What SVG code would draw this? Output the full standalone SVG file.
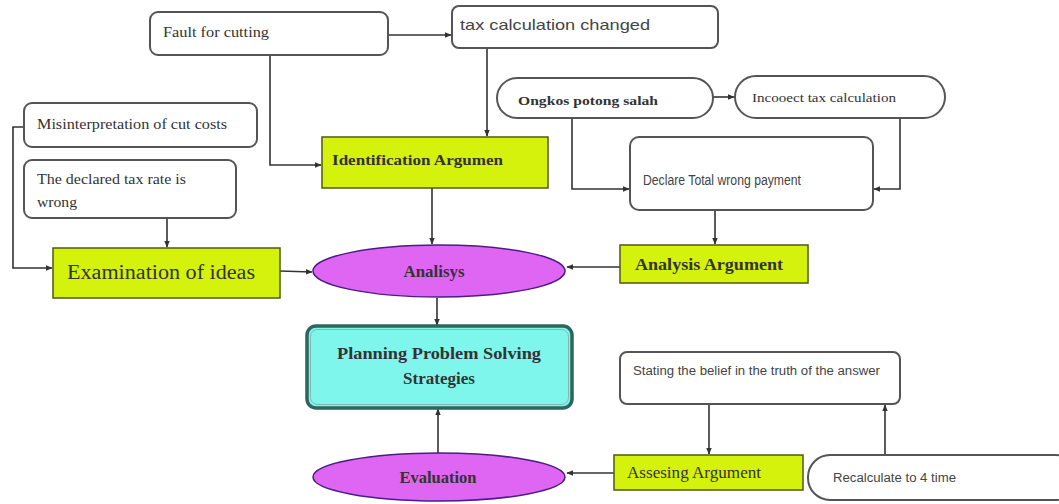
<svg xmlns="http://www.w3.org/2000/svg" width="1059" height="504" viewBox="0 0 1059 504">
<defs>
<marker id="ah" viewBox="0 0 10 10" refX="9" refY="5" markerWidth="7" markerHeight="7" markerUnits="userSpaceOnUse" orient="auto"><path d="M0,1 L10,5 L0,9 z" fill="#333"/></marker>
<style>
.box{fill:#fff;stroke:#555;stroke-width:2}
.grn{fill:#d5f20d;stroke:#4d5a12;stroke-width:1.5}
.pur{fill:#df66f2;stroke:#4b1c86;stroke-width:1.5}
.cyn{fill:#7ff6ec;stroke:#2d665e;stroke-width:3.5}
.ln{fill:none;stroke:#333;stroke-width:1.6;marker-end:url(#ah)}
.serif{font-family:"Liberation Serif","DejaVu Serif",serif;fill:#333}
.sans{font-family:"Liberation Sans",Arial,sans-serif;fill:#444}
.bold{font-weight:bold}
</style>
</defs>
<rect width="1059" height="504" fill="#fff"/>

<g id="connectors">
<path class="ln" d="M388,35 L451,35"/>
<path class="ln" d="M270,55 L270,165 L321,165"/>
<path class="ln" d="M487,48 L487,136"/>
<path class="ln" d="M713,97 L734,97"/>
<path class="ln" d="M572,118 L572,189 L629,189"/>
<path class="ln" d="M900,118 L900,189 L874,189"/>
<path class="ln" d="M715,210 L715,244"/>
<path class="ln" d="M620,267 L567,267"/>
<path class="ln" d="M24,127 L13,127 L13,268 L52,268"/>
<path class="ln" d="M167,218 L167,247"/>
<path class="ln" d="M280,271 L312,272"/>
<path class="ln" d="M432,188 L432,244"/>
<path class="ln" d="M437,298 L437,325"/>
<path class="ln" d="M438,453 L438,409"/>
<path class="ln" d="M614,473 L567,473"/>
<path class="ln" d="M709,404 L709,454"/>
<path class="ln" d="M885,455 L885,405"/>
</g>

<g id="fault">
<rect class="box" x="150" y="12" width="238" height="43" rx="8"/>
<text class="serif" x="163" y="37" font-size="14" textLength="106" lengthAdjust="spacingAndGlyphs">Fault for cutting</text>
</g>
<g id="taxchanged">
<rect class="box" x="452" y="6" width="266" height="42" rx="7"/>
<text class="sans" x="460" y="30" font-size="15" fill="#555" textLength="190" lengthAdjust="spacingAndGlyphs">tax calculation changed</text>
</g>
<g id="ongkos">
<rect class="box" x="497" y="78" width="216" height="40" rx="20"/>
<text class="serif bold" x="518" y="105" font-size="13.5" fill="#3a3a3a" textLength="140" lengthAdjust="spacingAndGlyphs">Ongkos potong salah</text>
</g>
<g id="incorrect">
<rect class="box" x="735" y="76" width="210" height="42" rx="21"/>
<text class="serif" x="752" y="102" font-size="13" textLength="144" lengthAdjust="spacingAndGlyphs">Incooect tax calculation</text>
</g>
<g id="declare">
<rect class="box" x="630" y="137" width="243" height="73" rx="9"/>
<text class="sans" x="643" y="185" font-size="14" textLength="158" lengthAdjust="spacingAndGlyphs">Declare Total wrong payment</text>
</g>
<g id="misinterpretation">
<rect class="box" x="24" y="103" width="233" height="44" rx="8"/>
<text class="serif" x="37" y="129" font-size="14" textLength="190" lengthAdjust="spacingAndGlyphs">Misinterpretation of cut costs</text>
</g>
<g id="declaredrate">
<rect class="box" x="24" y="160" width="212" height="58" rx="8"/>
<text class="serif" x="37" y="184" font-size="14" textLength="149" lengthAdjust="spacingAndGlyphs">The declared tax rate is</text>
<text class="serif" x="37" y="207" font-size="14" textLength="40" lengthAdjust="spacingAndGlyphs">wrong</text>
</g>
<g id="identification">
<rect class="grn" x="322" y="137" width="226" height="51"/>
<text class="serif bold" x="332" y="165" font-size="15" fill="#2c3405" textLength="171" lengthAdjust="spacingAndGlyphs">Identification Argumen</text>
</g>
<g id="examination">
<rect class="grn" x="53" y="248" width="227" height="50"/>
<text class="serif" x="67" y="279" font-size="20" fill="#2d3a08" textLength="188" lengthAdjust="spacingAndGlyphs">Examination of ideas</text>
</g>
<g id="analysisarg">
<rect class="grn" x="620" y="245" width="188" height="38"/>
<text class="serif bold" x="635" y="270" font-size="16" fill="#2c3405" textLength="148" lengthAdjust="spacingAndGlyphs">Analysis Argument</text>
</g>
<g id="analisys">
<ellipse class="pur" cx="439" cy="271" rx="126" ry="26"/>
<text class="serif bold" x="434" y="277" font-size="16" fill="#2a1a6a" text-anchor="middle" textLength="61" lengthAdjust="spacingAndGlyphs">Analisys</text>
</g>
<g id="planning">
<rect class="cyn" x="307" y="326" width="265" height="82" rx="9"/>
<rect x="310.5" y="329.5" width="258" height="75" rx="7" fill="none" stroke="#7fb8b0" stroke-width="1"/>
<text class="serif bold" x="439" y="359" font-size="17" fill="#17332f" text-anchor="middle" textLength="204" lengthAdjust="spacingAndGlyphs">Planning Problem Solving</text>
<text class="serif bold" x="439" y="384" font-size="17" fill="#17332f" text-anchor="middle">Strategies</text>
</g>
<g id="stating">
<rect class="box" x="620" y="352" width="280" height="52" rx="7"/>
<text class="sans" x="633" y="375" font-size="12" textLength="247" lengthAdjust="spacingAndGlyphs">Stating the belief in the truth of the answer</text>
</g>
<g id="assesing">
<rect class="grn" x="614" y="455" width="189" height="35"/>
<text class="serif" x="627" y="478" font-size="16" fill="#2d3a08" textLength="134" lengthAdjust="spacingAndGlyphs">Assesing Argument</text>
</g>
<g id="recalculate">
<rect class="box" x="808" y="455" width="270" height="45" rx="22"/>
<text class="sans" x="833" y="482" font-size="12" textLength="123" lengthAdjust="spacingAndGlyphs">Recalculate to 4 time</text>
</g>
<g id="evaluation">
<ellipse class="pur" cx="439" cy="477" rx="126" ry="24"/>
<text class="serif bold" x="438" y="483" font-size="16" fill="#2a1a6a" text-anchor="middle" textLength="77" lengthAdjust="spacingAndGlyphs">Evaluation</text>
</g>
</svg>
